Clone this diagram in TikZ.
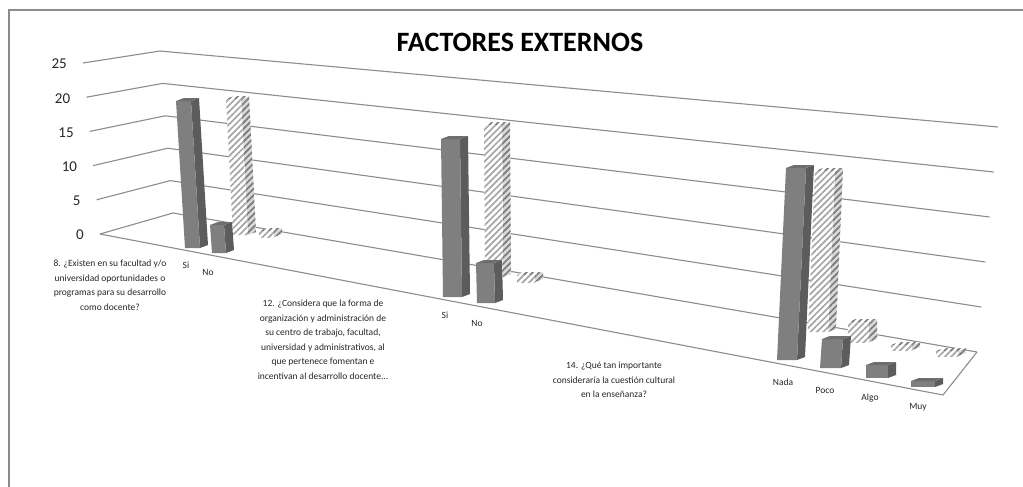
\documentclass[tikz,border=0pt]{standalone}
\usepackage{fontspec}
\setmainfont{Carlito}
\usetikzlibrary{calc,patterns.meta}

\definecolor{lineagris}{HTML}{8C8C8C}
\definecolor{oscfrente}{HTML}{7F7F7F}
\definecolor{osclado}{HTML}{5C5C5C}
\definecolor{oscarriba}{HTML}{6E6E6E}
\definecolor{raya}{HTML}{A6A6A6}
\definecolor{rayaosc}{HTML}{7A7A7A}

\tikzset{
  marco/.style={draw=lineagris, line width=1.2pt},
  rejilla/.style={draw=lineagris, line width=1.1pt},
  eje/.style={font=\fontsize{15}{15}\selectfont, text=black!85, inner sep=0pt},
  cat/.style={font=\fontsize{9.5}{9.5}\selectfont, text=black!85, inner sep=0pt},
  pregunta/.style={font=\fontsize{9.5}{14.5}\selectfont, text=black!85, align=center, inner sep=0pt, anchor=north},
  titulo/.style={font=\fontsize{28}{28}\selectfont\bfseries, inner sep=0pt},
  osc front/.style={fill=oscfrente},
  osc side/.style={fill=osclado},
  osc top/.style={fill=oscarriba},
  ray front/.style={fill=white, postaction={pattern={Lines[angle=45,distance=4.5pt,line width=1.7pt]}, pattern color=raya}},
  ray side/.style={fill=white!85!black, postaction={pattern={Lines[angle=45,distance=4.5pt,line width=1.7pt]}, pattern color=rayaosc}},
  ray top/.style={fill=white, postaction={pattern={Lines[angle=45,distance=4.5pt,line width=1.7pt]}, pattern color=rayaosc}},
}

% #1 serie (osc/ray), #2,#3 esquina inferior izq., #4,#5 esquina superior izq., #6 ancho
\newcommand{\barra}[6]{%
  \path[#1 side] ({#2+#6},#3) -- ({#4+#6},#5) -- ({#4+#6+8},{#5-3}) -- ({#2+#6+8},{#3-3}) -- cycle;
  \path[#1 front] (#2,#3) -- (#4,#5) -- ({#4+#6},#5) -- ({#2+#6},#3) -- cycle;
  \path[#1 top] (#4,#5) -- ({#4+#6},#5) -- ({#4+#6+8},{#5-3}) -- ({#4+8},{#5-3}) -- cycle;
}

\begin{document}
\begin{tikzpicture}[x=1pt, y=-1pt]
\useasboundingbox (0,0) rectangle (1023,487);
\draw[marco] (1023,10) -- (9,10) -- (9,487);

\node[titulo] (titulo) at (520,42) {FACTORES EXTERNOS};

% paredes y piso
\coordinate (F0) at (100,234);
\coordinate (F25) at (83,63);
\coordinate (B0) at (173,213);
\coordinate (B25) at (160,51);
\coordinate (R0) at (977,352);
\coordinate (R25) at (998,127);
\coordinate (S0) at (943,395);
\foreach \k/\v in {0/0,1/5,2/10,3/15,4/20,5/25}{
  \draw[rejilla] ($(F0)!\k/5!(F25)$) -- ($(B0)!\k/5!(B25)$) -- ($(R0)!\k/5!(R25)$);
  \node[eje, anchor=east] (v\v) at ($(F0)!\k/5!(F25)+(-16,1)$) {\v};
}
\draw[rejilla] (F0) -- (S0) -- (R0);

% pregunta 8
\barra{ray}{233}{235}{226}{99}{15}
\barra{ray}{259}{237}{259}{231}{15}
\barra{osc}{185}{248}{176}{101}{15}
\barra{osc}{212}{253}{210}{225}{14}

% pregunta 12
\barra{ray}{485}{277}{484}{125}{18}
\barra{ray}{517}{282}{517}{275}{18}
\barra{osc}{443}{297}{441}{139}{19}
\barra{osc}{477}{303}{476}{263}{18}

% pregunta 14
\barra{ray}{808}{332}{815}{171}{20}
\barra{ray}{848}{342}{848}{322}{21}
\barra{ray}{891}{350}{891}{345}{21}
\barra{ray}{936}{356}{936}{351}{22}
\barra{osc}{777}{360}{786}{168}{20}
\barra{osc}{820}{368}{822}{339}{21}
\barra{osc}{866}{378}{866}{365}{22}
\barra{osc}{911}{387}{911}{381}{24}

% etiquetas
\node[cat] (si8) at (186,265) {Si};
\node[cat] (no8) at (208,272) {No};
\node[pregunta] (p8) at (110,260) {8. ¿Existen en su facultad y/o\\universidad oportunidades o\\programas para su desarrollo\\como docente?};
\node[cat] (si12) at (445,315) {Si};
\node[cat] (no12) at (477,323) {No};
\node[pregunta] (p12) at (323,300) {12. ¿Considera que la forma de\\organización y administración de\\su centro de trabajo, facultad,\\universidad y administrativos, al\\que pertenece fomentan e\\incentivan al desarrollo docente...};
\node[cat] (nada) at (783,382) {Nada};
\node[cat] (poco) at (825,390) {Poco};
\node[cat] (algo) at (870,398) {Algo};
\node[cat] (muy) at (918,407) {Muy};
\node[pregunta] (p14) at (614,362) {14. ¿Qué tan importante\\consideraría la cuestión cultural\\en la enseñanza?};
\end{tikzpicture}
\end{document}
